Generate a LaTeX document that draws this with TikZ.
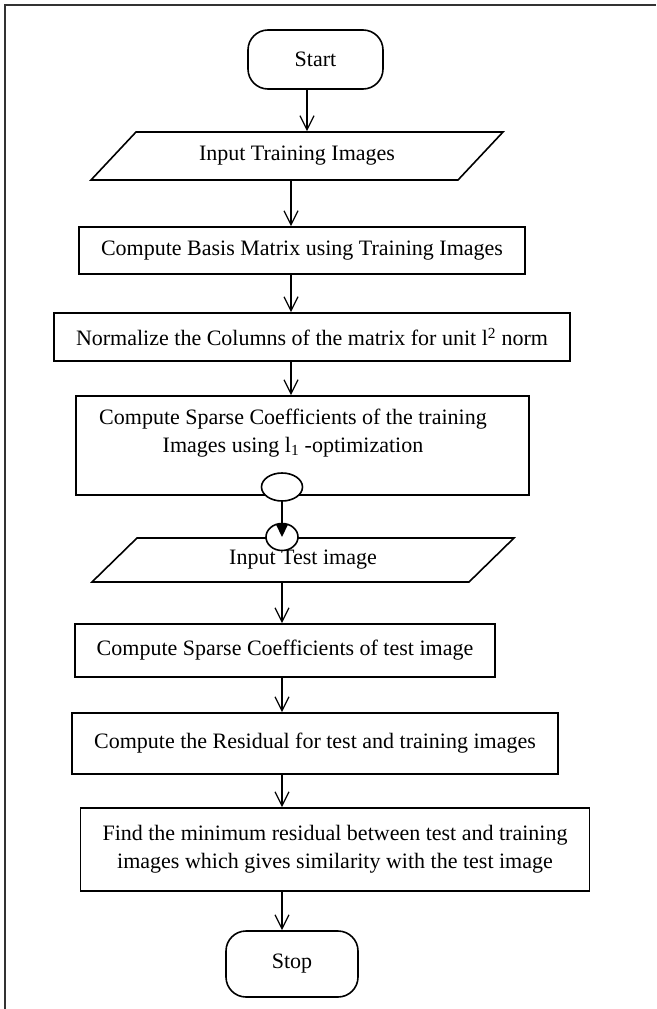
\documentclass[tikz,border=0pt]{standalone}
\usepackage{fontspec}
\setmainfont{Liberation Serif}
\usetikzlibrary{shapes.geometric}
\usetikzlibrary{positioning}
\usetikzlibrary{arrows.meta}
\tikzset{
    termnode/.style = {rectangle, rounded corners=20pt, draw=black, line width=1.6pt, minimum width=135pt, minimum height=59pt, fill=white},
    ionode/.style = {trapezium, trapezium left angle=30, trapezium right angle=150, trapezium stretches body, draw=black, line width=1.6pt, fill=white},
    procnode/.style = {rectangle, draw=black, line width=1.6pt, inner xsep=22pt, fill=white},
    connnode/.style = {ellipse, draw=black, line width=1.6pt, fill=white, inner sep=0pt},
    edgen/.style = {-{Straight Barb[length=14pt,width=14pt]},line width=1.3pt},
    edgec/.style = {-{Triangle[length=13pt,width=12pt]},line width=2pt},
    frameline/.style = {line width=2.6pt,black!80}
}

\begin{document}
\begin{tikzpicture}[x=1pt,y=-1pt,font=\fontsize{22}{28}\selectfont]
\useasboundingbox (0,0) rectangle (656,1009);
\draw[frameline] (5,1009) -- (5,5) -- (656,5);
%
\coordinate (ca) at (307,0);
\coordinate (cb) at (291,0);
\coordinate (cc) at (282,0);
%
\node[termnode] at (315.5,59.5) (start) {Start};
\node[ionode,minimum width=412pt,minimum height=48pt] at (297,156) (intrain) {Input Training Images};
\node[procnode,minimum height=47pt] at (302,250.5) (basis) {Compute Basis Matrix using Training Images};
\node[procnode,minimum height=48pt] at (312,337) (norm) {Normalize the Columns of the matrix for unit l\textsuperscript{2} norm};
\node[procnode,minimum width=453pt,minimum height=99pt] at (302.5,445.5) (sparse) {};
\node[align=center,anchor=north] at (293,405) (sparsetxt) {Compute Sparse Coefficients of the training\\Images using l\textsubscript{1} -optimization};
\node[ionode,minimum width=422pt,minimum height=44pt] at (303,560) (intest) {Input Test image};
\node[connnode,minimum width=41pt,minimum height=28pt] at (cc |- 0,487) (conna) {};
\node[connnode,minimum width=32pt,minimum height=27pt] at (cc |- 0,537) (connb) {};
\node[procnode,minimum height=53pt] at (285,650.5) (sptest) {Compute Sparse Coefficients of test image};
\node[procnode,minimum height=61pt] at (315,743.5) (resid) {Compute the Residual for test and training images};
\node[procnode,minimum height=83pt,align=center] at (335,849.5) (minres) {Find the minimum residual between test and training\\images which gives similarity with the test image};
\node[termnode,minimum width=132pt,minimum height=66pt] at (292,964) (stop) {Stop};
%
\draw[edgen] (start.south -| ca) -- (intrain.north -| ca);
\draw[edgen] (intrain.south -| cb) -- (basis.north -| cb);
\draw[edgen] (basis.south -| cb) -- (norm.north -| cb);
\draw[edgen] (norm.south -| cb) -- (sparse.north -| cb);
\draw[edgec] (conna.south) -- (connb.center);
\draw[edgen] (intest.south -| cc) -- (sptest.north -| cc);
\draw[edgen] (sptest.south -| cc) -- (resid.north -| cc);
\draw[edgen] (resid.south -| cc) -- (minres.north -| cc);
\draw[edgen] (minres.south -| cc) -- (stop.north -| cc);

\end{tikzpicture}
\end{document}
